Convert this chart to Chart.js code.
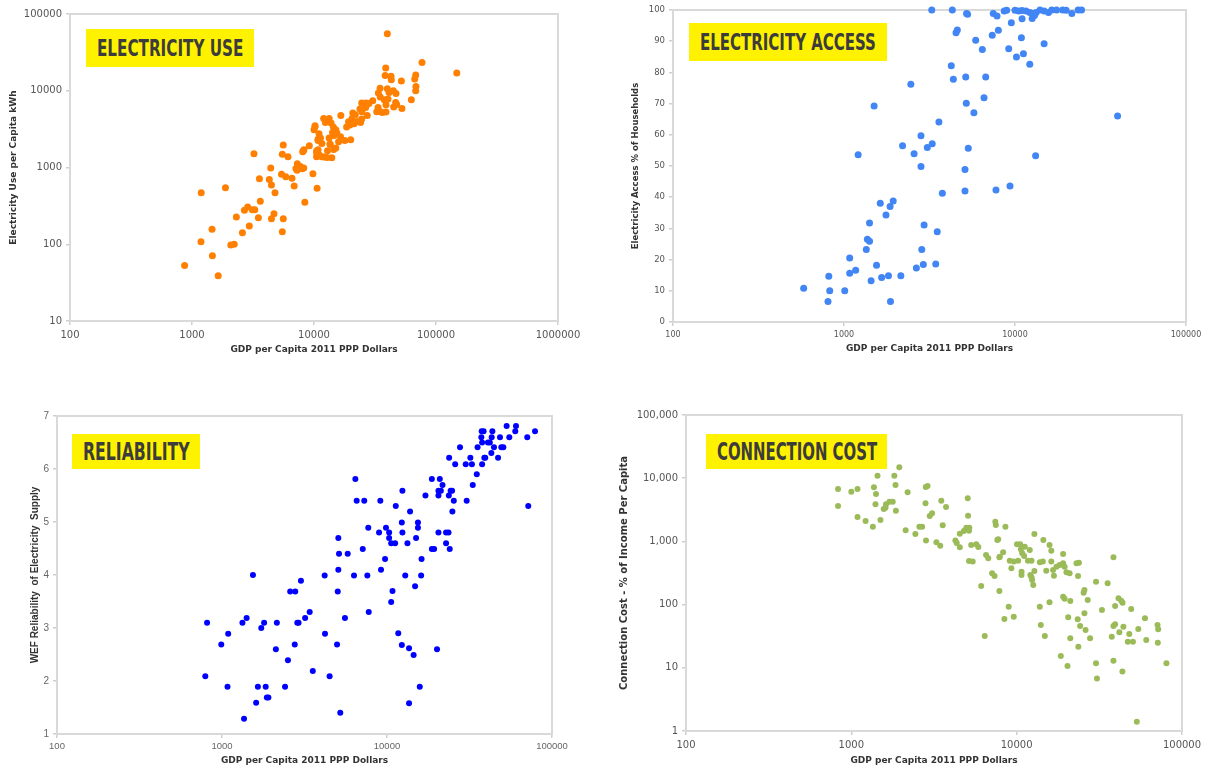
<!DOCTYPE html>
<html>
<head>
<meta charset="utf-8">
<script src="https://cdn.jsdelivr.net/npm/chart.js@4.4.0/dist/chart.umd.min.js"></script>
<style>
  body { margin: 0; background: #fff; width: 1215px; height: 770px; position: relative; overflow: hidden; }
  .panel { position: absolute; }
  .tag { position: absolute; background: #fff200; overflow: hidden; }
  .tag span {
    position: absolute; top: 50%; white-space: nowrap;
    font-family: "DejaVu Sans Condensed", "DejaVu Sans", sans-serif; font-weight: bold;
    color: #3c3c3c; transform-origin: 0 50%;
  }
</style>
</head>
<body>
<div class="panel" style="left:0;top:0"><canvas id="useChart" width="605" height="365"></canvas></div>
<div class="panel" style="left:610px;top:0"><canvas id="accessChart" width="605" height="365"></canvas></div>
<div class="panel" style="left:0;top:390px"><canvas id="relChart" width="605" height="380"></canvas></div>
<div class="panel" style="left:610px;top:390px"><canvas id="costChart" width="605" height="380"></canvas></div>

<div class="tag" style="left:86px;top:29px;width:168px;height:38px"><span data-w="146" style="left:11px;font-size:23px">ELECTRICITY USE</span></div>
<div class="tag" style="left:689px;top:23px;width:198px;height:38px"><span data-w="176" style="left:11px;font-size:23px">ELECTRICITY ACCESS</span></div>
<div class="tag" style="left:72px;top:434px;width:128px;height:35px"><span data-w="107" style="left:11px;font-size:24px">RELIABILITY</span></div>
<div class="tag" style="left:706px;top:434px;width:181px;height:35px"><span data-w="160" style="left:11px;font-size:24px">CONNECTION COST</span></div>

<script>
// ---- 1. Electricity use (GDP per capita vs kWh per capita) ----
const useGdp = [870,1190,1185,1460,1470,1640,1880,2080,2220,2310,2590,2690,2860,2950,3120,3220,3270,3570,3500,3630,
  4420,4300,4480,4790,4480,4700,5600,5500,6120,5420,5870,5600,5500,6600,6880,7260,7300,8170,9150,10190,
  10000,10790,10500,10500,7990,9800,10600,8410,7110,7730,8240,
  39900,76800,148000,38700,38300,42800,43000,52000,68200,66900,68500,68200,62800,52600,34800,39900,41200,44700,47000,33700,
  34900,37700,40400,46700,38900,45000,47600,33500,36300,38900,32700,34800,30300,28200,26700,24600,27000,26500,27300,24700,
  23800,21800,20500,20800,19200,24600,24100,22800,21300,19700,18500,16600,12000,13300,13800,12400,10200,11000,11300,10800,
  11600,14200,15100,14600,15400,14400,13300,13500,16500,17900,20000,15900,8280,8080,10800,11000,10500,11600,12100,12800,
  14000,12900,14500,13600,15100];
const useKwh = [53,470,108,157,71,39,546,98,100,226,141,277,306,173,282,1514,282,715,222,363,
  985,700,590,470,215,250,1964,1486,1383,815,760,215,145,723,574,919,1122,1656,1923,3400,
  3110,2330,1640,1383,964,830,536,352,973,1030,985,
  55300,23400,17000,19800,15800,15400,13900,13400,16000,14200,11400,10000,7630,5880,10800,10600,9500,10000,9230,9330,
  8280,7630,7800,7040,6570,6130,6630,6060,5210,5280,5330,5370,7410,6840,6900,6900,6570,6060,4770,5330,
  5780,4870,4350,5120,3950,4280,3860,3980,3720,3570,3370,4770,4350,4350,3800,3860,3500,2750,2420,2250,
  2060,2860,3100,2620,2810,3370,2420,2020,2520,2250,2300,2170,1700,1600,1700,1470,1560,1380,1370,1350,
  1340,1650,1720,2000,1790];
const useXTicks = [100, 1000, 10000, 100000, 1000000];
const useYTicks = [10, 100, 1000, 10000, 100000];

// ---- 2. Electricity access (% of households) ----
const accessGdp = [1500,3590,2820,3280,3070,2200,2570,2820,1210,3760,1940,1630,1860,1760,1410,2940,3510,1370,1410,1350,
  2850,1080,1550,2650,2910,3440,815,1080,1170,1440,1660,1820,2150,581,825,1010,806,1870,
  3260,4300,5210,5280,7460,7850,8650,8940,10000,10500,11000,11600,12200,12700,12600,13000,13300,14000,14800,15700,
  16400,17500,19000,19900,21500,23400,24500,9520,11000,7990,7360,4600,4520,5890,6440,9190,10900,11200,10200,12200,
  14800,4240,4360,5150,6740,2460,5190,6590,5750,39800,5330,5100,13200,5100,7740,9350];
const accessPct = [69.2,64.1,59.7,57.1,55.9,56.5,53.9,49.8,53.6,41.3,38.8,38.1,37.0,34.3,31.7,31.1,28.9,26.5,25.9,23.2,
  23.2,20.5,18.2,17.3,18.4,18.6,14.7,15.6,16.6,13.2,14.3,14.8,14.8,10.8,10.0,10.0,6.6,6.6,
  100,100,98.9,98.6,98.9,98.1,99.7,99.9,99.9,99.7,99.8,99.7,99.2,98.9,97.3,98.2,99.2,100,99.7,99.2,
  100,100,100,99.9,98.9,100,100,95.9,97.2,93.5,91.9,93.6,92.7,90.3,87.3,87.6,91.1,86.0,84.9,82.6,
  89.2,82.1,77.8,78.5,78.5,76.2,70.1,71.9,67.1,66.0,55.7,48.9,53.3,42.0,42.3,43.6];
const accessXTicks = [100, 1000, 10000, 100000];

// ---- 3. Reliability (WEF score 1-7) ----
const relGdp = [1540,3010,2590,2780,4190,5070,5120,5780,7130,9730,6310,7600,9200,5030,812,1330,1410,1800,1730,2150,
  2860,2910,3190,3400,1090,990,2120,2760,2510,4210,4980,5560,7750,3550,4490,792,1080,1650,1840,2410,
  1870,1910,1610,1360,5210,53100,60500,78900,59900,70800,55100,71800,37500,38500,43500,37300,43100,48400,37700,40900,
  42000,44500,49300,50700,35400,27700,42900,32000,38900,39400,47100,23800,25900,30000,32700,37700,35000,33100,18700,20900,
  21700,20500,21200,24300,24800,20500,23700,25400,30400,24900,17100,12400,11300,13800,6430,6550,7280,9110,12300,15400,
  15400,7700,9860,8950,10300,10300,12400,15000,20500,22800,23600,10600,11200,13300,22800,24000,5070,18700,19300,16200,
  12900,16100,10800,14800,10600,11700,12300,13600,14500,20100,15800,13600];
const relScore = [4.0,3.89,3.69,3.69,3.99,4.1,4.4,4.4,4.49,4.3,3.99,3.99,4.1,3.69,3.1,3.1,3.19,3.1,3.0,3.1,
  3.1,3.1,3.19,3.3,2.89,2.69,2.6,2.69,2.39,2.89,2.69,3.19,3.3,2.19,2.09,2.09,1.89,1.89,1.89,1.89,
  1.69,1.69,1.59,1.29,1.4,6.81,6.81,6.71,6.71,6.6,6.6,5.3,6.71,6.71,6.71,6.6,6.6,6.6,6.5,6.5,
  6.5,6.41,6.41,6.41,6.41,6.41,6.3,6.21,6.21,6.21,6.21,6.21,6.09,6.09,6.09,6.09,5.9,5.7,5.81,5.81,
  5.7,5.59,5.59,5.59,5.59,5.5,5.5,5.4,5.4,5.2,5.5,5.59,5.3,5.2,5.81,5.4,5.4,5.4,4.99,4.99,
  4.89,4.89,4.89,4.8,4.8,4.7,4.8,4.7,4.8,4.8,4.8,4.6,4.6,4.6,4.6,4.49,4.7,4.49,4.49,4.3,
  3.99,3.99,3.7,3.79,3.49,2.9,2.68,2.62,2.49,2.6,1.89,1.58];
const relXTicks = [100, 1000, 10000, 100000];

// ---- 4. Connection cost (% of income per capita) ----
const costGdp = [831,831,1000,1090,1090,1220,1350,1500,1370,1410,1440,1400,1570,1620,1700,1780,1610,1820,1950,1850,
  1860,2190,2130,2440,2580,2680,2820,2890,2810,2980,3080,2830,3270,3450,3500,3740,3570,5060,5080,4960,
  5170,5150,4530,4790,4260,4340,4530,5310,5700,5860,5150,5420,6100,6530,6730,7430,7480,7640,7860,7100,
  7350,7860,8430,8550,7730,12800,14500,15800,16200,10050,10500,11200,10600,10800,11100,12000,8280,7910,9080,9600,
  10200,9290,10700,10700,11700,12300,12800,12100,12300,12400,12600,13800,14400,16200,17400,16600,18200,19100,15100,16800,
  19100,19500,20000,20900,23000,23800,23500,8950,9600,6410,13800,15800,14000,14800,19100,19500,21100,25700,25400,26900,
  25700,20500,23400,24200,26100,27800,23600,21100,18500,20300,30200,35500,32800,39400,41300,42900,43700,49300,38500,39400,
  44200,41800,48000,54400,59700,71100,71800,37600,47000,50500,60800,71400,38500,43600,30200,30600,80500,53300,38500];
const costPct = [6750,3630,6110,6750,2430,2100,1710,2180,7180,5620,10960,3860,3260,3860,4250,4250,3410,10960,14900,7800,
  3060,5980,1500,1310,1710,1710,7260,7530,4010,2520,2780,1030,968,855,4410,3500,1800,4810,2550,1650,
  1650,1480,1320,1460,1030,944,807,877,900,815,490,480,197,609,540,2050,1820,1050,560,313,
  284,164,59,1710,1080,1310,1050,877,713,900,900,824,750,649,588,731,673,573,495,480,
  495,375,332,294,495,495,340,294,270,245,204,467,480,480,398,353,423,450,344,287,
  632,398,324,313,450,460,284,92.7,64,31.8,92.7,109,47.6,31.8,133,124,114,170,154,118,
  72.8,63,58.5,45.9,39.6,29.3,21.6,29.3,15.4,10.7,230,217,82,95,126,115,107,85,45.9,48.8,
  44.7,36.5,34.3,41.1,60.7,47.6,40.6,31.1,25.9,25.9,27.5,25,12.9,8.7,11.8,6.8,11.8,1.4,560];
const costXTicks = [100, 1000, 10000, 100000];
const costYTicks = [1, 10, 100, 1000, 10000, 100000];

// 차트 영역 바깥 테두리
const frame = {
  id: 'frame',
  beforeDatasetsDraw(chart) {
    const { ctx, chartArea: a } = chart;
    ctx.save();
    ctx.strokeStyle = '#d9d9d9';
    ctx.lineWidth = 2;
    ctx.strokeRect(a.left, a.top, a.right - a.left, a.bottom - a.top);
    ctx.restore();
  }
};

function toPoints(xs, ys) {
  return xs.map((x, i) => ({ x: x, y: ys[i] }));
}

function axis(opts) {
  const s = {
    type: opts.type,
    min: opts.min,
    max: opts.max,
    afterFit: sc => {
      if (opts.size !== undefined) {
        if (sc.isHorizontal()) sc.height = opts.size; else sc.width = opts.size;
      }
    },
    ticks: {
      color: opts.tickColor || '#555',
      font: { family: opts.tickFamily || 'DejaVu Sans', size: opts.tickSize || 10 },
      padding: opts.tickPad !== undefined ? opts.tickPad : 4,
      maxRotation: 0,
      autoSkip: false,
      callback: opts.fmt || (v => String(v))
    },
    grid: { display: true, drawOnChartArea: false, tickLength: 4, color: '#cfcfcf', lineWidth: 1.5 },
    border: { color: '#cfcfcf', width: 2 },
    title: {
      display: true,
      text: opts.title,
      color: '#333',
      font: { family: opts.titleFamily || 'DejaVu Sans', size: opts.titleSize || 9, weight: opts.titleWeight || 'bold' },
      padding: opts.titlePad
    }
  };
  if (opts.tickValues) {
    s.afterBuildTicks = sc => { sc.ticks = opts.tickValues.map(v => ({ value: v })); };
  }
  if (opts.step) s.ticks.stepSize = opts.step;
  return s;
}

function makeChart(id, points, color, radius, layoutPad, xAxis, yAxis) {
  return new Chart(document.getElementById(id), {
    type: 'scatter',
    data: {
      datasets: [{
        data: points,
        backgroundColor: color,
        borderColor: color,
        borderWidth: 0,
        pointRadius: radius,
        clip: false
      }]
    },
    options: {
      responsive: false,
      animation: false,
      events: [],
      layout: { padding: layoutPad },
      plugins: { legend: { display: false }, tooltip: { enabled: false } },
      scales: { x: xAxis, y: yAxis }
    },
    plugins: [frame]
  });
}

makeChart('useChart', toPoints(useGdp, useKwh), '#ff8000', 3.5,
  { top: 14, right: 47, left: 0, bottom: 0 },
  axis({ type: 'logarithmic', min: 100, max: 1000000, tickValues: useXTicks, size: 44,
         title: 'GDP per Capita 2011 PPP Dollars', titlePad: { top: 0, bottom: 10 } }),
  axis({ type: 'logarithmic', min: 10, max: 100000, tickValues: useYTicks, size: 70,
         title: 'Electricity Use per Capita kWh', titlePad: { top: 8, bottom: 0 } }));

makeChart('accessChart', toPoints(accessGdp, accessPct), '#4285f4', 3.5,
  { top: 10, right: 29, left: 0, bottom: 0 },
  axis({ type: 'logarithmic', min: 100, max: 100000, tickValues: accessXTicks, size: 43, tickSize: 8,
         title: 'GDP per Capita 2011 PPP Dollars', titlePad: { top: 0, bottom: 11 } }),
  axis({ type: 'linear', min: 0, max: 100, step: 10, size: 63, tickSize: 8.5,
         title: 'Electricity Access % of Households', titleSize: 8.5, titlePad: { top: 21, bottom: 0 } }));

makeChart('relChart', toPoints(relGdp, relScore), '#0000ff', 3,
  { top: 26, right: 53, left: 0, bottom: 0 },
  axis({ type: 'logarithmic', min: 100, max: 100000, tickValues: relXTicks, size: 36,
         tickFamily: 'Liberation Sans', tickSize: 9.5, tickColor: '#666', tickPad: 3,
         title: 'GDP per Capita 2011 PPP Dollars', titleSize: 9, titlePad: { top: 0, bottom: 4 } }),
  axis({ type: 'linear', min: 1, max: 7, step: 1, size: 57,
         tickFamily: 'Liberation Sans', tickSize: 10, tickColor: '#666',
         title: 'WEF Reliability  of Electricity  Supply', titleFamily: 'Liberation Sans', titleSize: 10,
         titlePad: { top: 29, bottom: 0 } }));

makeChart('costChart', toPoints(costGdp, costPct), '#9bbb59', 3,
  { top: 25, right: 33, left: 0, bottom: 0 },
  axis({ type: 'logarithmic', min: 100, max: 100000, tickValues: costXTicks, size: 39,
         title: 'GDP per Capita 2011 PPP Dollars', titlePad: { top: 0, bottom: 4 } }),
  axis({ type: 'logarithmic', min: 1, max: 100000, tickValues: costYTicks, size: 76,
         fmt: v => Number(v).toLocaleString('en-US'),
         title: 'Connection Cost - % of Income Per Capita', titleSize: 10, titlePad: { top: 8, bottom: 0 } }));

// 노란 라벨 글자 폭 맞추기
document.querySelectorAll('.tag span').forEach(sp => {
  const target = Number(sp.dataset.w);
  const w = sp.offsetWidth;
  sp.style.transform = 'translateY(-50%) scaleX(' + (target / w) + ')';
});
</script>
</body>
</html>
